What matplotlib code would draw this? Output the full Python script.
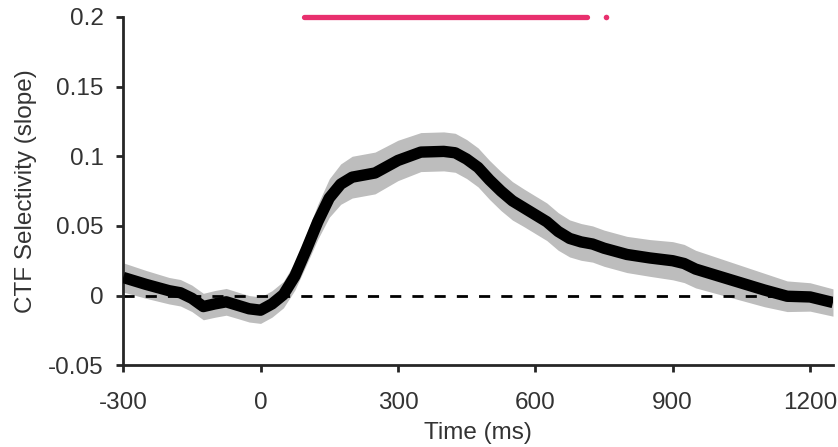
import numpy as np
import matplotlib
matplotlib.use("Agg")
import matplotlib.pyplot as plt

plt.rcParams["font.family"] = ["Liberation Sans", "DejaVu Sans"]

# mean selectivity over time
time_ms = [-300, -250, -200, -175, -150, -125, -100, -75, -50, -25, 0, 25, 50,
           75, 100, 125, 150, 175, 200, 250, 300, 350, 400, 425, 450, 475, 500,
           525, 550, 575, 600, 625, 650, 675, 700, 725, 750, 800, 850, 900,
           925, 950, 1000, 1050, 1100, 1150, 1200, 1250]
mean_slope = [0.013, 0.008, 0.0035, 0.002, -0.002, -0.0079, -0.006, -0.0045,
              -0.007, -0.0095, -0.0105, -0.006, 0.0007, 0.014, 0.033, 0.053,
              0.070, 0.080, 0.085, 0.088, 0.097, 0.103, 0.1035, 0.1025, 0.098,
              0.092, 0.083, 0.075, 0.068, 0.063, 0.058, 0.053, 0.046, 0.041,
              0.0385, 0.037, 0.034, 0.0295, 0.027, 0.025, 0.023, 0.019, 0.014,
              0.009, 0.004, -0.0005, -0.001, -0.005]
sem_slope = [0.0105, 0.010, 0.0095, 0.0095, 0.0095, 0.0095, 0.0096, 0.0096,
             0.0095, 0.0095, 0.0095, 0.0095, 0.0095, 0.010, 0.011, 0.0125,
             0.0138, 0.0145, 0.015, 0.015, 0.0145, 0.014, 0.014, 0.014,
             0.014, 0.014, 0.014, 0.014, 0.0138, 0.0135, 0.0135, 0.0135,
             0.0135, 0.0133, 0.0132, 0.013, 0.013, 0.013, 0.0132, 0.0137,
             0.0137, 0.0135, 0.013, 0.0125, 0.012, 0.011, 0.0102, 0.0098]

# significant time window
sig_start, sig_end = 95, 712
sig_dot = 754
sig_y = 0.2

t = np.array(time_ms)
m = np.array(mean_slope)
s = np.array(sem_slope)

fig = plt.figure(figsize=(8.38, 4.47), dpi=100)
ax = fig.add_axes([0.147, 0.183, 0.847, 0.779])

ax.fill_between(t, m - s, m + s, color="#bdbdbd", lw=0, zorder=1)
ax.axhline(0, color="black", lw=2, dashes=(4, 4), zorder=2)
ax.plot(t, m, color="black", lw=8.2, solid_capstyle="butt",
        solid_joinstyle="round", zorder=3)

pink = "#e8306e"
ax.plot([sig_start, sig_end], [sig_y, sig_y], color=pink, lw=3.8,
        solid_capstyle="round", clip_on=False, zorder=4)
ax.plot([sig_dot], [sig_y], "o", color=pink, ms=4, mec="none",
        clip_on=False, zorder=4)

ax.set_xlim(-300, 1250)
ax.set_ylim(-0.05, 0.2)
ax.set_xticks([-300, 0, 300, 600, 900, 1200])
ax.set_yticks([-0.05, 0, 0.05, 0.1, 0.15, 0.2])
ax.set_yticklabels(["-0.05", "0", "0.05", "0.1", "0.15", "0.2"])
ax.set_xticklabels(["-300", "0", "300", "600", "900", "1200"])

for side in ["top", "right"]:
    ax.spines[side].set_visible(False)
for side in ["left", "bottom"]:
    ax.spines[side].set_linewidth(2)
    ax.spines[side].set_color("#262626")

ax.tick_params(direction="out", length=5, width=2, color="#262626",
               labelsize=17.5, labelcolor="#333333")
ax.tick_params(axis="y", pad=9)
ax.tick_params(axis="x", pad=14)

ax.set_xlabel("Time (ms)", fontsize=17.5, color="#333333", labelpad=6)
ax.set_ylabel("CTF Selectivity (slope)", fontsize=17.5, color="#333333",
              labelpad=8)

fig.savefig("out.png", dpi=100)
